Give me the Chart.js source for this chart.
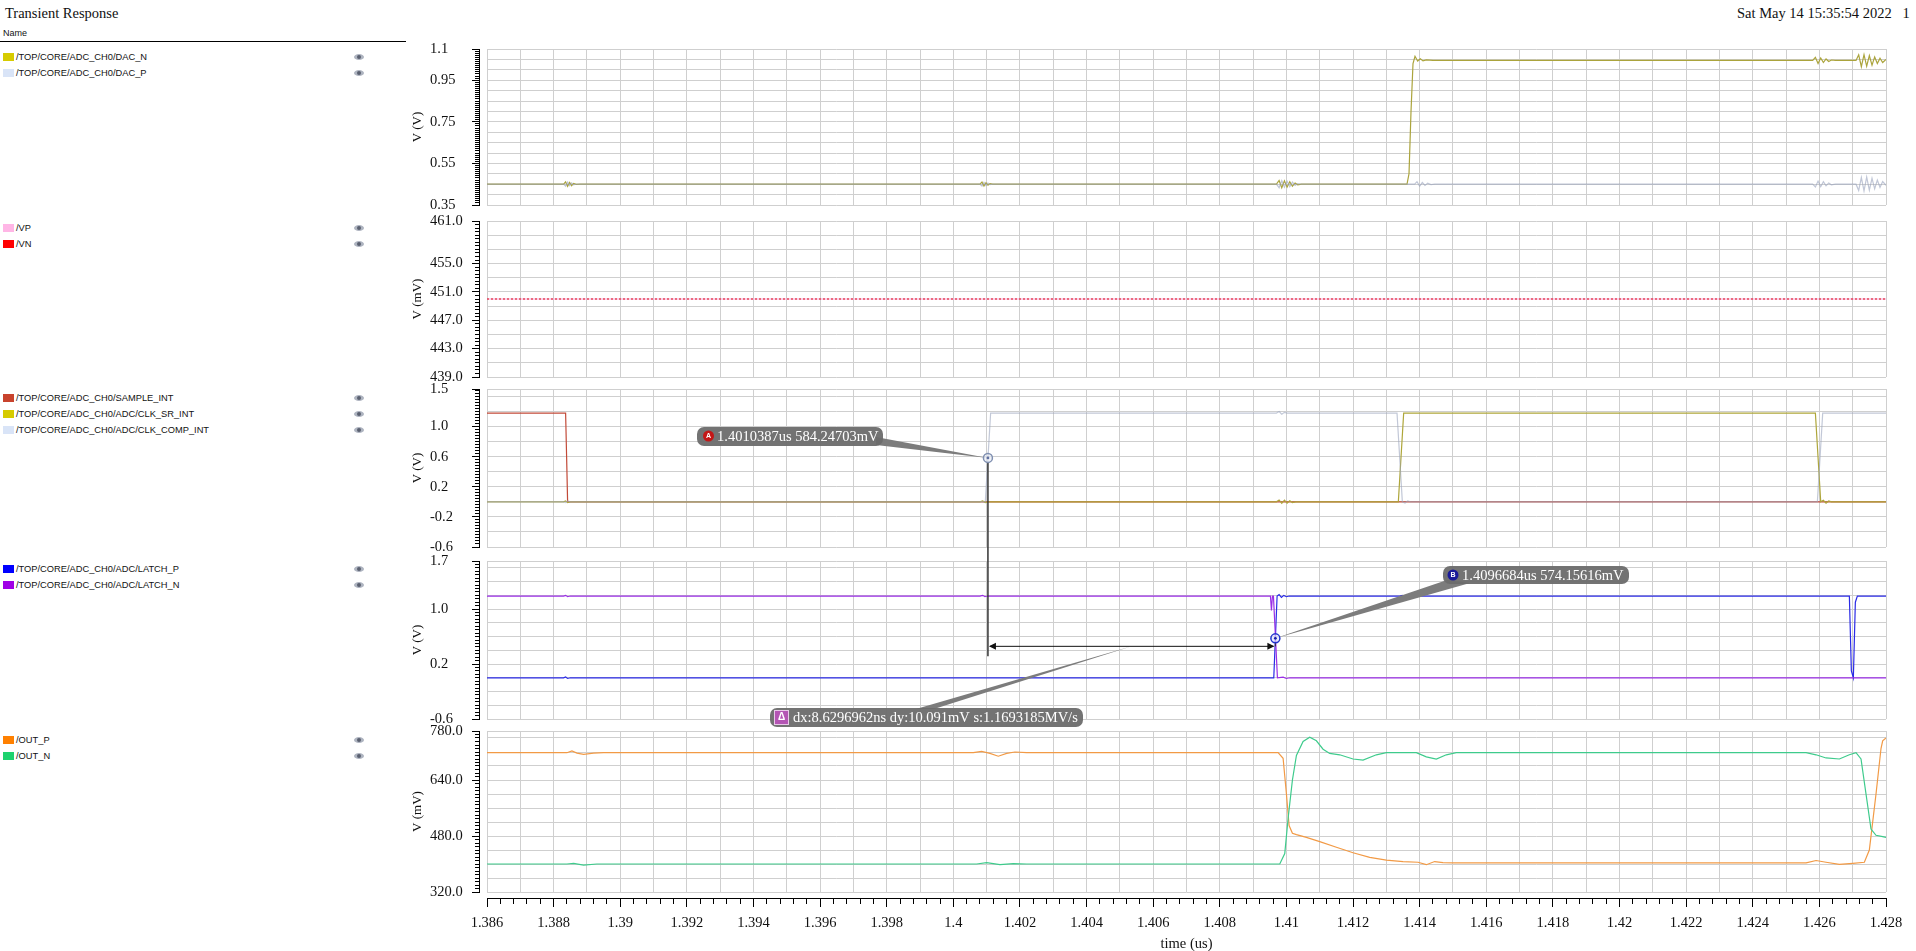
<!DOCTYPE html>
<html><head><meta charset="utf-8"><title>Transient Response</title>
<script src="https://cdn.jsdelivr.net/npm/chart.js@4.4.1/dist/chart.umd.min.js"></script>
<style>
html,body{margin:0;padding:0;background:#fff;overflow:hidden}
body{width:1916px;height:951px;position:relative}
.hdr{position:absolute;font-family:"Liberation Serif",serif;font-size:14.5px;color:#111;white-space:nowrap;line-height:16px}
.nm{position:absolute;left:3px;top:28px;font-family:"Liberation Sans",sans-serif;font-size:9px;color:#111;line-height:11px}
.rule{position:absolute;left:0;top:41px;width:406px;height:1px;background:#000}
.lg{position:absolute;left:0;width:380px;height:12px;font-family:"Liberation Sans",sans-serif;font-size:9.3px;color:#111;white-space:nowrap;line-height:12px}
.lg .sw{position:absolute;left:3px;top:2px;width:11px;height:8px}
.lg .tx{position:absolute;left:16px;top:0}
.eye{position:absolute;left:354px;top:3px;width:10px;height:6px;border-radius:50%;background:#aeb4c0}
.eye:after{content:"";position:absolute;left:3px;top:1px;width:4px;height:4px;border-radius:50%;background:#5a6070}
canvas{position:absolute;left:0}
</style></head><body>
<div class="hdr" style="left:5px;top:5px">Transient Response</div>
<div class="hdr" style="left:1737px;top:5px">Sat May 14 15:35:54 2022&nbsp;&nbsp;&nbsp;1</div>
<div class="nm">Name</div>
<div class="rule"></div>
<div id="legend"></div>
<canvas id="ov" width="1916" height="951" style="top:0;z-index:5;pointer-events:none"></canvas>
<script>
// ---------------- data ----------------
const xRange = [1.386, 1.428];
const xTickValues = [1.386,1.388,1.39,1.392,1.394,1.396,1.398,1.4,1.402,1.404,1.406,1.408,1.41,1.412,1.414,1.416,1.418,1.42,1.422,1.424,1.426,1.428];
const xTickLabels = ['1.386','1.388','1.39','1.392','1.394','1.396','1.398','1.4','1.402','1.404','1.406','1.408','1.41','1.412','1.414','1.416','1.418','1.42','1.422','1.424','1.426','1.428'];

// panel 1 : DAC (V)
const p1Range = [0.35, 1.1];
const p1TickValues = [0.35, 0.55, 0.75, 0.95, 1.1];
const p1TickLabels = ['0.35','0.55','0.75','0.95','1.1'];
const p1Names = ['/TOP/CORE/ADC_CH0/DAC_N','/TOP/CORE/ADC_CH0/DAC_P'];
const dacN = [[1.386,0.45],[1.3883,0.45],[1.38836,0.461],[1.38842,0.44],[1.38848,0.458],[1.38854,0.443],[1.3886,0.454],[1.38868,0.449],[1.3888,0.45],
 [1.4008,0.45],[1.40086,0.46],[1.40092,0.441],[1.40098,0.457],[1.40104,0.445],[1.4011,0.453],[1.40118,0.45],
 [1.4097,0.45],[1.40978,0.468],[1.40986,0.433],[1.40994,0.466],[1.41002,0.436],[1.4101,0.462],[1.41018,0.44],[1.41026,0.456],[1.41034,0.447],[1.41045,0.45],
 [1.41362,0.45],[1.41368,0.5],[1.41374,0.8],[1.4138,1.03],[1.41386,1.065],[1.41394,1.042],[1.41402,1.053],[1.4141,1.043],[1.4142,1.048],[1.4144,1.045],
 [1.4258,1.045],[1.42588,1.06],[1.42596,1.03],[1.42604,1.057],[1.42612,1.035],[1.4262,1.052],[1.42628,1.04],[1.42636,1.047],[1.42648,1.045],
 [1.4271,1.045],[1.42718,1.072],[1.42726,1.015],[1.42734,1.073],[1.42742,1.017],[1.4275,1.068],[1.42758,1.022],[1.42766,1.062],[1.42774,1.03],[1.42782,1.056],[1.4279,1.035],[1.428,1.05]];
const dacP = [[1.386,0.45],[1.3883,0.45],[1.38836,0.44],[1.38842,0.46],[1.38848,0.443],[1.38854,0.456],[1.3886,0.447],[1.38868,0.451],[1.3888,0.45],
 [1.4008,0.45],[1.40086,0.441],[1.40092,0.459],[1.40098,0.444],[1.40104,0.455],[1.4011,0.448],[1.40118,0.45],
 [1.4097,0.45],[1.40978,0.433],[1.40986,0.467],[1.40994,0.435],[1.41002,0.464],[1.4101,0.438],[1.41018,0.46],[1.41026,0.444],[1.41034,0.453],[1.41045,0.45],
 [1.41385,0.45],[1.41392,0.462],[1.414,0.441],[1.41408,0.458],[1.41416,0.444],[1.41424,0.455],[1.41434,0.448],[1.41445,0.45],
 [1.4258,0.45],[1.42588,0.437],[1.42596,0.465],[1.42604,0.438],[1.42612,0.462],[1.4262,0.442],[1.42628,0.456],[1.42636,0.447],[1.42648,0.45],
 [1.4271,0.45],[1.42718,0.42],[1.42726,0.482],[1.42734,0.418],[1.42742,0.484],[1.4275,0.421],[1.42758,0.478],[1.42766,0.428],[1.42774,0.47],[1.42782,0.435],[1.4279,0.463],[1.428,0.445]];

// panel 2 : VP / VN (mV)
const p2Range = [439, 461];
const p2TickValues = [439, 443, 447, 451, 455, 461];
const p2TickLabels = ['439.0','443.0','447.0','451.0','455.0','461.0'];
const p2Names = ['/VP','/VN'];
const vp = [[1.386,450.0],[1.428,450.0]];
const vn = [[1.386,450.0],[1.428,450.0]];

// panel 3 : clocks (V)
const p3Range = [-0.6, 1.5];
const p3TickValues = [-0.6, -0.2, 0.2, 0.6, 1.0, 1.5];
const p3TickLabels = ['-0.6','-0.2','0.2','0.6','1.0','1.5'];
const p3Names = ['/TOP/CORE/ADC_CH0/SAMPLE_INT','/TOP/CORE/ADC_CH0/ADC/CLK_SR_INT','/TOP/CORE/ADC_CH0/ADC/CLK_COMP_INT'];
const sampleInt = [[1.386,1.18],[1.38836,1.18],[1.38839,0.6],[1.38842,0],[1.428,0]];
const clkSr = [[1.386,0],[1.3883,0],[1.38836,0.012],[1.38842,-0.01],[1.3885,0],[1.4008,0],[1.40088,0.012],[1.40096,-0.01],[1.40104,0],
 [1.4097,0],[1.40978,0.025],[1.40986,-0.02],[1.40994,0.022],[1.41002,-0.018],[1.4101,0.015],[1.41018,-0.01],[1.41028,0],
 [1.41336,0],[1.41352,1.18],[1.42588,1.18],[1.42604,0],[1.42612,0.02],[1.4262,-0.018],[1.42628,0.012],[1.42636,0],[1.428,0]];
const clkComp = [[1.386,0],[1.3883,0],[1.38836,-0.01],[1.38842,0.012],[1.3885,0],[1.40096,0],[1.40112,1.18],
 [1.4097,1.18],[1.40978,1.2],[1.40986,1.165],[1.40994,1.19],[1.41002,1.18],[1.41332,1.18],[1.41348,0],[1.41356,-0.015],[1.41364,0.012],[1.41372,0],
 [1.42594,0],[1.4261,1.18],[1.428,1.18]];

// panel 4 : latch (V)
const p4Range = [-0.6, 1.7];
const p4TickValues = [-0.6, 0.2, 1.0, 1.7];
const p4TickLabels = ['-0.6','0.2','1.0','1.7'];
const p4Names = ['/TOP/CORE/ADC_CH0/ADC/LATCH_P','/TOP/CORE/ADC_CH0/ADC/LATCH_N'];
const latchP = [[1.386,0],[1.3883,0],[1.38836,0.012],[1.38842,-0.01],[1.3885,0],[1.40962,0],[1.40972,1.19],[1.40978,1.21],[1.40985,1.17],[1.40992,1.2],[1.41,1.18],[1.41008,1.19],
 [1.4134,1.19],[1.41348,1.2],[1.41356,1.18],[1.41364,1.2],[1.41372,1.19],[1.4269,1.19],[1.42696,0.1],[1.42702,0.0],[1.42708,1.1],[1.42714,1.19],[1.428,1.19]];
const latchN = [[1.386,1.19],[1.3883,1.19],[1.38836,1.2],[1.38842,1.18],[1.3885,1.19],[1.4008,1.19],[1.40088,1.2],[1.40095,1.18],[1.40102,1.19],
 [1.40952,1.19],[1.40955,0.98],[1.40958,1.19],[1.40961,1.19],[1.40967,0.6],[1.40973,0.0],[1.4099,0.01],[1.41,-0.01],[1.4101,0],[1.428,0]];

// panel 5 : outputs (mV)
const p5Range = [320, 780];
const p5TickValues = [320, 480, 640, 780];
const p5TickLabels = ['320.0','480.0','640.0','780.0'];
const p5Names = ['/OUT_P','/OUT_N'];
const outP = [[1.386,718],[1.3884,718],[1.38855,723],[1.3887,717],[1.3889,713],[1.3892,717],[1.3895,718],[1.4006,718],[1.40085,722],[1.4011,716],[1.40135,708],[1.4016,716],[1.40185,720],[1.4022,718],
 [1.40975,718],[1.4099,702],[1.41,600],[1.41008,510],[1.41018,488],[1.4103,484],[1.4106,476],[1.411,464],[1.4115,448],[1.412,432],[1.4125,419],[1.413,411],[1.4135,407],[1.41395,405],[1.4142,398],[1.41445,407],[1.4147,404],[1.415,403],
 [1.4256,403],[1.4259,410],[1.4262,405],[1.4266,399],[1.427,402],[1.42735,405],[1.4275,440],[1.4277,600],[1.42785,730],[1.4279,752],[1.428,760]];
const outN = [[1.386,400],[1.3884,400],[1.3886,402],[1.3889,397],[1.3893,400],[1.4007,400],[1.401,404],[1.4014,398],[1.4018,401],[1.4022,400],
 [1.4098,400],[1.40995,430],[1.41005,530],[1.41018,640],[1.4103,710],[1.4105,750],[1.4107,762],[1.4109,752],[1.4111,728],[1.4113,716],[1.4116,712],[1.412,700],[1.4123,697],[1.4127,712],[1.413,718],
 [1.4139,718],[1.4142,706],[1.4145,700],[1.4148,712],[1.4151,718],[1.4256,718],[1.4259,712],[1.4262,703],[1.4266,700],[1.4269,712],[1.4271,718],[1.42725,700],[1.4274,600],[1.42755,500],[1.4277,482],[1.4279,478],[1.428,476]];

// markers
const markerA = {t: 1.4010387, v: 0.58424703};
const markerB = {t: 1.4096684, v: 0.57415616};
const markerALabel = '1.4010387us 584.24703mV';
const markerBLabel = '1.4096684us 574.15616mV';
const deltaLabel = 'dx:8.6296962ns dy:10.091mV s:1.1693185MV/s';

// ---------------- styling / layout ----------------
const SERIF = '"Liberation Serif", "DejaVu Serif", serif';
Chart.defaults.font.family = SERIF;
const GRID = '#cfcfcf';
const PLOT_RIGHT = 1886;
const LAYOUT = [{top:49,bottom:205},{top:221,bottom:377},{top:389,bottom:547},{top:561,bottom:719},{top:731,bottom:892}];
const LEGEND_Y = [57, 228, 398, 569, 740];

const PANELS = [
  {range:p1Range, tv:p1TickValues, tl:p1TickLabels, grid:0.05, minor:0.01, title:'V (V)', names:p1Names,
   series:[{d:dacN, c:'#aba43c', sw:'#d6cb00'}, {d:dacP, c:'rgba(150,160,186,0.6)', sw:'#d9e4f7'}]},
  {range:p2Range, tv:p2TickValues, tl:p2TickLabels, grid:2, minor:0.5, title:'V (mV)', names:p2Names,
   series:[{d:vp, c:'#f7a6d6', sw:'#ffb6e6'}, {d:vn, c:'#e02a3a', sw:'#ff0000', dash:[2,2]}]},
  {range:p3Range, tv:p3TickValues, tl:p3TickLabels, grid:0.2, minor:0.04, title:'V (V)', names:p3Names,
   series:[{d:sampleInt, c:'#c24a38', sw:'#c8432d'}, {d:clkSr, c:'#aea63a', sw:'#d6cb00'}, {d:clkComp, c:'rgba(156,166,190,0.62)', sw:'#d9e4f7'}]},
  {range:p4Range, tv:p4TickValues, tl:p4TickLabels, grid:0.2, minor:0.05, title:'V (V)', names:p4Names,
   series:[{d:latchP, c:'#2b2be6', sw:'#0000ff'}, {d:latchN, c:'#9a2ee6', sw:'#a000e6'}]},
  {range:p5Range, tv:p5TickValues, tl:p5TickLabels, grid:40, minor:10, title:'V (mV)', names:p5Names,
   series:[{d:outP, c:'#f29a45', sw:'#ff8000'}, {d:outN, c:'#3ecb8c', sw:'#1ed26e'}]}
];

function steps(min, max, step) {
  const out = [];
  const n = Math.floor((max - min) / step + 1e-6);
  for (let i = 0; i <= n; i++) out.push(+(min + i * step).toFixed(6));
  if (Math.abs(out[out.length - 1] - max) > 1e-9) out.push(max);
  return out;
}
function findLabel(vals, labels, v) {
  for (let i = 0; i < vals.length; i++) if (Math.abs(vals[i] - v) < 1e-7) return labels[i];
  return null;
}
const xy = a => a.map(p => ({x: p[0], y: p[1]}));

// legend
const legendEl = document.getElementById('legend');
PANELS.forEach((p, pi) => {
  p.names.forEach((n, i) => {
    const row = document.createElement('div');
    row.className = 'lg';
    row.style.top = (LEGEND_Y[pi] - 6 + i * 15.8) + 'px';
    row.innerHTML = '<span class="sw" style="background:' + p.series[i].sw + '"></span><span class="tx">' + n + '</span><span class="eye"></span>';
    legendEl.appendChild(row);
  });
});

const charts = [], canvasTops = [];
PANELS.forEach((p, pi) => {
  const last = pi === PANELS.length - 1;
  const box = LAYOUT[pi];
  const padTop = 12, padBottom = last ? 0 : 12;
  const extra = last ? 61 : 0;
  const top = box.top - padTop;
  const h = box.bottom - box.top + padTop + padBottom + extra;
  const cv = document.createElement('canvas');
  cv.width = 1916; cv.height = h;
  cv.style.top = top + 'px';
  document.body.appendChild(cv);
  canvasTops.push(top);

  const gridVals = steps(p.range[0], p.range[1], p.grid);
  const minorVals = steps(p.range[0], p.range[1], p.minor);
  const xGrid = steps(xRange[0], xRange[1], 0.001);
  const xMinor = steps(xRange[0], xRange[1], 0.0004);

  const scales = {
    x: {type:'linear', min:xRange[0], max:xRange[1], position:'bottom', weight:0,
        afterBuildTicks: s => { s.ticks = xGrid.map(v => ({value:v})); },
        afterFit: s => { s.height = last ? 6 : 0; },
        ticks:{display:false}, border:{display:false},
        grid:{color:GRID, borderDash:[1,2], lineWidth:1, drawTicks:false}},
    y: {type:'linear', min:p.range[0], max:p.range[1], position:'left', weight:0,
        afterBuildTicks: s => { s.ticks = gridVals.map(v => ({value:v})); },
        afterFit: s => { s.width = 8; },
        ticks:{display:false}, border:{display:false},
        grid:{color:GRID, borderDash:[1,2], lineWidth:1, drawTicks:false}},
    yr: {type:'linear', min:p.range[0], max:p.range[1], position:'left', weight:1,
        afterBuildTicks: s => { s.ticks = minorVals.map(v => ({value:v})); },
        afterFit: s => { s.width = 49; },
        ticks:{autoSkip:false, crossAlign:'far', padding:2, color:'#111', font:{family:SERIF, size:14.5},
               callback: v => findLabel(p.tv, p.tl, v) || ''},
        border:{display:true, color:'#000', width:1},
        grid:{drawOnChartArea:false, drawTicks:true, tickLength:7, tickColor:'#000', tickWidth:1,
              tickBorderDash: ctx => (ctx.tick && findLabel(p.tv, p.tl, ctx.tick.value) !== null) ? [] : [0,3,4,100]}},
    yt: {type:'linear', min:p.range[0], max:p.range[1], position:'left', weight:2,
        afterFit: s => { s.width = 24; },
        ticks:{display:false}, border:{display:false}, grid:{display:false},
        title:{display:true, text:p.title, color:'#111', font:{family:SERIF, size:13}, padding:{top:4, bottom:0}}}
  };
  if (last) {
    scales.xr = {type:'linear', min:xRange[0], max:xRange[1], position:'bottom', weight:1,
      afterBuildTicks: s => { s.ticks = xMinor.map(v => ({value:v})); },
      afterFit: s => { s.height = 55; },
      ticks:{autoSkip:false, maxRotation:0, minRotation:0, padding:7, color:'#111', font:{family:SERIF, size:14.5},
             callback: v => findLabel(xTickValues, xTickLabels, v) || ''},
      border:{display:true, color:'#000', width:1},
      grid:{drawOnChartArea:false, drawTicks:true, tickLength:9, tickColor:'#000', tickWidth:1,
            tickBorderDash: ctx => (ctx.tick && findLabel(xTickValues, xTickLabels, ctx.tick.value) !== null) ? [] : [5,100]},
      title:{display:true, text:'time (us)', color:'#111', font:{family:SERIF, size:14.5}, padding:{top:0, bottom:0}}};
  }
  const n = p.series.length;
  const chart = new Chart(cv, {
    type:'line',
    data:{datasets: p.series.map((s, i) => ({data: xy(s.d), borderColor: s.c, borderWidth: 1.2, borderDash: s.dash || [],
            pointRadius: 0, fill: false, tension: 0, xAxisID: 'x', yAxisID: 'y', order: n - i}))},
    options:{responsive:false, animation:false, events:[],
      layout:{padding:{left:406, right:1916 - PLOT_RIGHT, top:padTop, bottom:padBottom}},
      plugins:{legend:{display:false}, tooltip:{enabled:false}, title:{display:false}},
      scales}
  });
  charts.push(chart);
});

// ---------------- markers / annotations ----------------
(function drawAnnotations() {
  const g = document.getElementById('ov').getContext('2d');
  const c3 = charts[2], c4 = charts[3];
  const pA = {x: c3.scales.x.getPixelForValue(markerA.t), y: c3.scales.y.getPixelForValue(markerA.v) + canvasTops[2]};
  const pB = {x: c4.scales.x.getPixelForValue(markerB.t), y: c4.scales.y.getPixelForValue(markerB.v) + canvasTops[3]};
  const arrowY = pB.y + 8;
  const mid = {x: (pA.x + pB.x) / 2, y: arrowY};

  function poly(pts, fill) { g.beginPath(); g.moveTo(pts[0][0], pts[0][1]); pts.slice(1).forEach(q => g.lineTo(q[0], q[1])); g.closePath(); g.fillStyle = fill; g.fill(); }
  function line(x1, y1, x2, y2, c, w) { g.beginPath(); g.moveTo(x1, y1); g.lineTo(x2, y2); g.strokeStyle = c; g.lineWidth = w; g.stroke(); }
  function rbox(x, y, w, h, r, fill) { g.beginPath(); g.roundRect(x, y, w, h, r); g.fillStyle = fill; g.fill(); }
  function txt(s, x, y, font, color, align) { g.font = font; g.fillStyle = color; g.textAlign = align || 'left'; g.textBaseline = 'middle'; g.fillText(s, x, y); }

  // delta lines
  line(pA.x, pA.y + 4, pA.x, arrowY + 10, '#333', 1.5);
  line(pB.x, pB.y + 4, pB.x, arrowY, '#333', 1);
  line(pA.x + 2, arrowY, pB.x - 2, arrowY, '#111', 1);
  poly([[pA.x + 1, arrowY], [pA.x + 8, arrowY - 3.5], [pA.x + 8, arrowY + 3.5]], '#111');
  poly([[pB.x - 1, arrowY], [pB.x - 8, arrowY - 3.5], [pB.x - 8, arrowY + 3.5]], '#111');

  // pointers
  const LBL = 'rgba(108,108,108,0.95)';
  poly([[876, 437], [876, 445], [pA.x, pA.y]], '#7c7c7c');
  poly([[1447, 580], [1470, 583], [pB.x, pB.y]], '#7c7c7c');
  poly([[916, 709], [934, 709], [mid.x, mid.y]], '#7c7c7c');

  // marker rings
  g.beginPath(); g.arc(pA.x, pA.y, 4.5, 0, Math.PI * 2); g.fillStyle = 'rgba(230,235,245,0.6)'; g.fill(); g.strokeStyle = '#7f8fb0'; g.lineWidth = 1.5; g.stroke();
  g.beginPath(); g.arc(pA.x, pA.y, 1.4, 0, Math.PI * 2); g.fillStyle = '#6070a0'; g.fill();
  g.beginPath(); g.arc(pB.x, pB.y, 4.5, 0, Math.PI * 2); g.fillStyle = 'rgba(220,225,255,0.6)'; g.fill(); g.strokeStyle = '#2233cc'; g.lineWidth = 1.5; g.stroke();
  g.beginPath(); g.arc(pB.x, pB.y, 1.4, 0, Math.PI * 2); g.fillStyle = '#1a22aa'; g.fill();

  // label A
  rbox(697, 427, 186, 19, 7, LBL);
  g.beginPath(); g.arc(708.5, 436, 5.5, 0, Math.PI * 2); g.fillStyle = '#c41616'; g.fill();
  txt('A', 708.5, 436.5, 'bold 7px "Liberation Sans"', '#fff', 'center');
  txt(markerALabel, 717, 437, '14.5px ' + SERIF, '#fff');
  // label B
  rbox(1443, 566, 186, 18, 7, LBL);
  g.beginPath(); g.arc(1453, 575, 5.5, 0, Math.PI * 2); g.fillStyle = '#1a1a9a'; g.fill();
  txt('B', 1453, 575.5, 'bold 7px "Liberation Sans"', '#fff', 'center');
  txt(markerBLabel, 1462, 576, '14.5px ' + SERIF, '#fff');
  // delta label
  rbox(770, 708, 313, 19, 7, LBL);
  rbox(774, 710, 15, 15, 2, '#b455b4');
  g.strokeStyle = '#e8c8e8'; g.lineWidth = 1; g.strokeRect(774.5, 710.5, 14, 14);
  txt('\u0394', 781.5, 717.5, 'bold 10px "Liberation Sans"', '#fff', 'center');
  txt(deltaLabel, 793, 718, '14.5px ' + SERIF, '#fff');
})();
</script>
</body></html>
